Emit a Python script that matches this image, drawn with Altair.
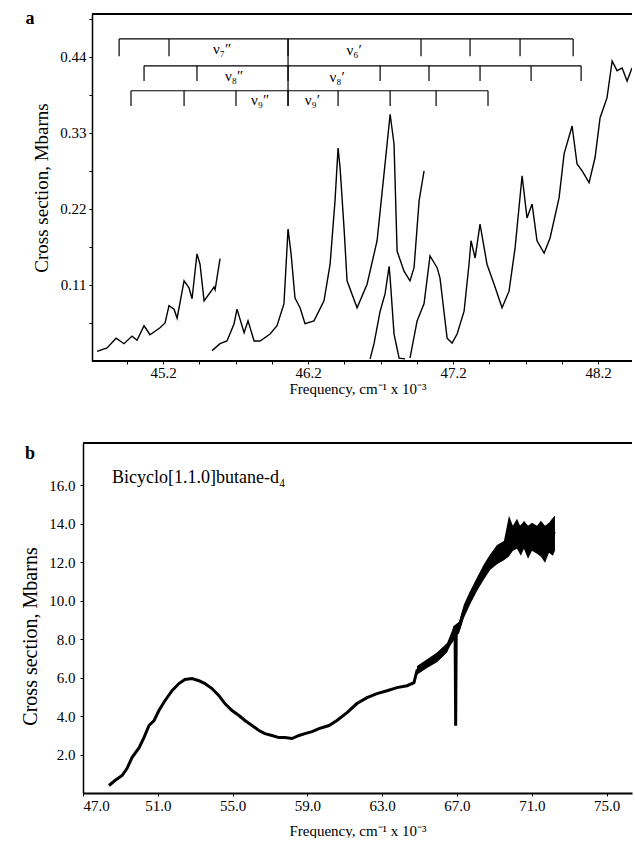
import json
import altair as alt
import pandas as pd

FONT = "Liberation Serif"

# ---------------- Panel a : spectrum pieces (frequency in 10^3 cm-1, cross section in Mbarns)
seg1_f = [44.745, 44.814, 44.876, 44.931, 44.986, 45.021, 45.069, 45.110, 45.179, 45.214, 45.241,
          45.276, 45.297, 45.345, 45.379, 45.400, 45.434, 45.455, 45.483, 45.552, 45.559, 45.593]
seg1_v = [0.014, 0.019, 0.033, 0.025, 0.036, 0.030, 0.051, 0.038, 0.048, 0.055, 0.080,
          0.075, 0.062, 0.116, 0.106, 0.090, 0.155, 0.140, 0.087, 0.107, 0.103, 0.148]

seg2_f = [45.538, 45.593, 45.641, 45.690, 45.710, 45.759, 45.786, 45.828, 45.869, 45.938, 45.986,
          46.034, 46.062, 46.083, 46.110, 46.145, 46.179, 46.241, 46.310, 46.352, 46.386, 46.407,
          46.421, 46.448, 46.469, 46.538, 46.607, 46.676, 46.724, 46.745, 46.766, 46.793, 46.814,
          46.862, 46.903, 46.931, 46.966, 47.000]
seg2_v = [0.015, 0.025, 0.029, 0.054, 0.075, 0.041, 0.058, 0.029, 0.029, 0.039, 0.051,
          0.083, 0.191, 0.155, 0.091, 0.077, 0.054, 0.058, 0.087, 0.140, 0.232, 0.308,
          0.279, 0.193, 0.116, 0.077, 0.111, 0.174, 0.271, 0.314, 0.357, 0.314, 0.159,
          0.130, 0.116, 0.135, 0.232, 0.275]

seg3_f = [46.628, 46.655, 46.697, 46.731, 46.759, 46.766, 46.793, 46.828, 46.869]
seg3_v = [0.003, 0.025, 0.072, 0.097, 0.137, 0.120, 0.039, 0.004, 0.003]

seg4_f = [46.903, 46.952, 47.000, 47.041, 47.090, 47.110, 47.159, 47.193, 47.228, 47.276, 47.310,
          47.324, 47.352, 47.386, 47.434, 47.483, 47.538, 47.586, 47.628, 47.676, 47.710, 47.745,
          47.779, 47.828, 47.869, 47.931, 47.966, 48.021, 48.055, 48.090, 48.138, 48.179, 48.214,
          48.262, 48.297, 48.331, 48.366, 48.400, 48.434]
seg4_v = [0.004, 0.058, 0.083, 0.152, 0.135, 0.120, 0.033, 0.026, 0.039, 0.072, 0.140,
          0.174, 0.149, 0.198, 0.140, 0.111, 0.077, 0.101, 0.164, 0.268, 0.207, 0.227,
          0.174, 0.156, 0.178, 0.236, 0.300, 0.340, 0.285, 0.275, 0.258, 0.294, 0.352,
          0.381, 0.434, 0.420, 0.424, 0.405, 0.424]

# progression combs (positions of assignment ticks)
comb_names = ["row1", "row2", "row3"]
comb_ticks = [
    [44.897, 45.241, 46.062, 46.979, 47.317, 47.662, 48.028],
    [45.069, 45.434, 46.062, 46.697, 47.034, 47.386, 47.738, 48.083],
    [44.979, 45.345, 45.703, 46.062, 46.407, 46.766, 47.083, 47.441],
]
comb_top = [0.466, 0.427, 0.391]
comb_bottom = [0.441, 0.405, 0.369]
divider_f = 46.062

lab_text = ["ν₇″", "ν₆′", "ν₈″", "ν₈′", "ν₉″", "ν₉′"]
lab_f = [45.607, 46.517, 45.690, 46.400, 45.870, 46.230]
lab_v = [0.452, 0.450, 0.413, 0.411, 0.377, 0.377]

xa_ticks = [44.95, 45.2, 45.45, 45.7, 45.95, 46.2, 46.45, 46.7, 46.95, 47.2, 47.45, 47.7, 47.95, 48.2]
xa_labels = ["45.2", "46.2", "47.2", "48.2"]
ya_ticks = [0.055, 0.11, 0.165, 0.22, 0.275, 0.33, 0.385, 0.44, 0.495]
ya_labels = ["0.11", "0.22", "0.33", "0.44"]

# ---------------- Panel b : Bicyclo[1.1.0]butane-d4 broad spectrum
b_f = [48.39, 48.71, 49.09, 49.35, 49.62, 50.00, 50.26, 50.53, 50.80, 51.06, 51.39, 51.76, 52.13,
       52.45, 52.83, 53.20, 53.52, 53.90, 54.27, 54.59, 54.97, 55.34, 55.66, 56.04, 56.41, 56.73,
       57.11, 57.48, 57.80, 58.18, 58.55, 58.87, 59.25, 59.62, 60.16, 60.58, 61.12, 61.65, 62.19,
       62.72, 63.26, 63.79, 64.33, 64.70, 64.86, 65.40, 65.93, 66.47, 66.73, 66.84, 66.90, 66.93,
       66.96, 67.11, 67.37, 67.70, 68.07, 68.44, 68.77, 69.14, 69.51, 69.78, 70.21, 70.58, 70.90,
       71.28, 71.65, 71.97, 72.24]
b_v = [0.39, 0.65, 0.91, 1.27, 1.84, 2.36, 2.88, 3.51, 3.77, 4.29, 4.81, 5.32, 5.69,
       5.90, 5.95, 5.84, 5.69, 5.43, 5.06, 4.65, 4.29, 4.03, 3.77, 3.51, 3.25, 3.09,
       2.99, 2.88, 2.88, 2.83, 2.99, 3.09, 3.19, 3.35, 3.51, 3.77, 4.18, 4.65, 4.96,
       5.17, 5.32, 5.48, 5.58, 5.74, 6.36, 6.73, 7.04, 7.56, 7.92, 8.44, 8.30, 3.50,
       8.50, 8.60, 9.48, 10.16, 10.88, 11.56, 12.08, 12.44, 12.60, 13.27, 13.64, 14.00, 13.64,
       13.79, 13.48, 13.64, 13.48]

# noise envelope of the high-frequency part
band_f = [64.86, 65.40, 65.93, 66.47, 66.84, 67.11, 67.37, 67.70, 68.07, 68.44, 68.77, 69.14, 69.51,
          69.78, 69.99, 70.21, 70.42, 70.58, 70.80, 71.01, 71.28, 71.49, 71.71, 71.92, 72.13, 72.24]
band_lo = [6.15, 6.50, 6.80, 7.30, 8.10, 8.30, 9.10, 9.80, 10.50, 11.10, 11.60, 11.90, 12.10,
           12.30, 12.60, 12.70, 12.34, 12.70, 12.18, 12.60, 12.44, 12.29, 11.97, 12.49, 12.34, 12.60]
band_hi = [6.60, 6.95, 7.30, 7.80, 8.70, 8.90, 9.80, 10.50, 11.20, 11.90, 12.40, 12.90, 13.10,
           14.42, 13.90, 14.26, 13.79, 14.16, 13.90, 14.05, 13.90, 14.16, 13.90, 14.05, 14.31, 14.42]

xb_ticks = [47, 49, 51, 53, 55, 57, 59, 61, 63, 65, 67, 69, 71, 73, 75]
xb_labels = ["47.0", "51.0", "55.0", "59.0", "63.0", "67.0", "71.0", "75.0"]
yb_ticks = [2, 4, 6, 8, 10, 12, 14, 16]

compound = "Bicyclo[1.1.0]butane-d₄"
compound_f, compound_v = 48.55, 16.4

x_title = "Frequency, cm⁻¹ x 10⁻³"
y_title = "Cross section, Mbarns"

# ---------------- layout constants
W = 549
HA = 347
HB = 350
XA_DOM = [44.648, 48.434]
YA_DOM = [0, 0.502]
XB_DOM = [47.0, 76.36]
YB_DOM = [0, 18.2]
A_SHIFT = 9  # panel a axis starts a little to the right


def lab_expr(labels, fmt):
    return (f"indexof({json.dumps(labels)}, format(datum.value, '{fmt}')) >= 0 "
            f"? format(datum.value, '{fmt}') : ''")


# ---------------- build panel a
rows = []
for s, (fs, vs) in enumerate([(seg1_f, seg1_v), (seg2_f, seg2_v), (seg3_f, seg3_v), (seg4_f, seg4_v)]):
    for f, v in zip(fs, vs):
        rows.append({"f": f, "v": v, "seg": s})
df_a = pd.DataFrame(rows)

xa = alt.X("f:Q", scale=alt.Scale(domain=XA_DOM, nice=False, zero=False),
           axis=alt.Axis(values=xa_ticks, labelExpr=lab_expr(xa_labels, ".1f"), title=x_title,
                         domain=False, tickSize=3, labelPadding=1, titlePadding=1,
                         labelFontSize=15, titleFontSize=15))
ya = alt.Y("v:Q", scale=alt.Scale(domain=YA_DOM, nice=False, zero=True),
           axis=alt.Axis(values=ya_ticks, labelExpr=lab_expr(ya_labels, ".2f"), title=y_title,
                         offset=-A_SHIFT, tickSize=3, labelPadding=3, titlePadding=8,
                         domainWidth=1.5, labelFontSize=15, titleFontSize=19))

line_a = alt.Chart(df_a).mark_line(color="black", strokeWidth=1.4, clip=True).encode(
    x=xa, y=ya, detail="seg:N")

h_rows, t_rows = [], []
for name, ticks, top, bot in zip(comb_names, comb_ticks, comb_top, comb_bottom):
    h_rows.append({"f": ticks[0], "f2": ticks[-1], "v": top})
    for t in ticks:
        t_rows.append({"f": t, "v": top, "v2": bot})
t_rows.append({"f": divider_f, "v": comb_top[0], "v2": comb_bottom[-1]})
comb_h = alt.Chart(pd.DataFrame(h_rows)).mark_rule(color="black", strokeWidth=1.2).encode(
    x="f:Q", x2="f2:Q", y="v:Q")
comb_t = alt.Chart(pd.DataFrame(t_rows)).mark_rule(color="black", strokeWidth=1.2).encode(
    x="f:Q", y="v:Q", y2="v2:Q")
labels_a = alt.Chart(pd.DataFrame({"f": lab_f, "v": lab_v, "t": lab_text})).mark_text(
    font=FONT, fontSize=15, color="black", baseline="middle", align="center").encode(
    x="f:Q", y="v:Q", text="t:N")

dummy = pd.DataFrame({"k": [0]})
frame_a_top = alt.Chart(dummy).mark_rule(color="black", strokeWidth=2).encode(
    x=alt.value(A_SHIFT), x2=alt.value(W), y=alt.value(0))
frame_a_bot = alt.Chart(dummy).mark_rule(color="black", strokeWidth=1.8).encode(
    x=alt.value(A_SHIFT), x2=alt.value(W), y=alt.value(HA))
letter_a = alt.Chart(dummy).mark_text(text="a", font=FONT, fontSize=18, fontWeight="bold",
                                      color="black").encode(x=alt.value(-53), y=alt.value(5))

panel_a = alt.layer(line_a, comb_h, comb_t, labels_a, frame_a_top, frame_a_bot, letter_a).properties(
    width=W, height=HA)

# ---------------- build panel b
df_b = pd.DataFrame({"f": b_f, "v": b_v})
df_band = pd.DataFrame({"f": band_f, "v": band_lo, "v2": band_hi})

xb = alt.X("f:Q", scale=alt.Scale(domain=XB_DOM, nice=False, zero=False),
           axis=alt.Axis(values=xb_ticks, labelExpr=lab_expr(xb_labels, ".1f"), title=x_title,
                         tickSize=3, labelPadding=2, titlePadding=10, domainWidth=1.8,
                         labelFontSize=15, titleFontSize=15))
yb = alt.Y("v:Q", scale=alt.Scale(domain=YB_DOM, nice=False, zero=True),
           axis=alt.Axis(values=yb_ticks, format=".1f", title=y_title, tickSize=3, labelPadding=5,
                         titlePadding=8, titleY=HB / 2 + 18, domainWidth=1.5,
                         labelFontSize=15, titleFontSize=20))

band_b = alt.Chart(df_band).mark_area(color="black", clip=True).encode(x=xb, y=yb, y2="v2:Q")
line_b = alt.Chart(df_b).mark_line(color="black", strokeWidth=3, clip=True).encode(x=xb, y=yb)
label_b = alt.Chart(pd.DataFrame({"f": [compound_f], "v": [compound_v], "t": [compound]})).mark_text(
    font=FONT, fontSize=18, color="black", align="left", baseline="middle").encode(
    x="f:Q", y="v:Q", text="t:N")
frame_b_top = alt.Chart(dummy).mark_rule(color="black", strokeWidth=2).encode(
    x=alt.value(0), x2=alt.value(W), y=alt.value(0))
letter_b = alt.Chart(dummy).mark_text(text="b", font=FONT, fontSize=18, fontWeight="bold",
                                      color="black").encode(x=alt.value(-53), y=alt.value(11))

panel_b = alt.layer(band_b, line_b, label_b, frame_b_top, letter_b).properties(width=W, height=HB)

chart = alt.vconcat(panel_a, panel_b, spacing=46).properties(
    padding={"left": 20, "top": 10, "right": 0, "bottom": 0}
).configure_view(stroke=None).configure_axis(
    labelFont=FONT, titleFont=FONT, labelColor="black", titleColor="black",
    domainColor="black", tickColor="black", grid=False, titleFontWeight="normal"
)

chart.save("out.html", embed_options={"renderer": "svg", "actions": False})
